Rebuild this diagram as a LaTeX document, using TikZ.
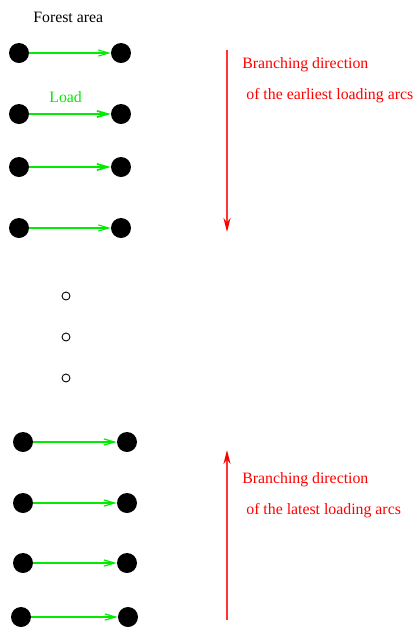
\documentclass[tikz,border=0pt]{standalone}
\usepackage{fontspec}
\setmainfont{Liberation Serif}
\usetikzlibrary{arrows.meta}
\definecolor{loadgreen}{RGB}{0,235,0}

\begin{document}
\begin{tikzpicture}[>=Stealth,x=0.02cm,y=-0.02cm,
    vertex/.style={circle,fill=black,inner sep=0pt,minimum size=0.4cm},
    dot/.style={circle,draw=black,line width=0.5pt,inner sep=0pt,minimum size=0.16cm},
    load/.style={loadgreen,line width=0.7pt,-{Straight Barb[length=6pt,width=3.5pt]}},
    branch/.style={red!80,line width=0.9pt,-{Stealth[length=8pt,width=4pt,red]}},
    label/.style={anchor=base west,inner sep=0pt,font=\fontsize{9}{11}\selectfont}]
  \useasboundingbox (0,0) rectangle (416,627);
  % Configurable parameters
  \def\xl{19}
  \def\xr{121}
  \def\xL{23}
  \def\xR{127}
  %
  % Earliest loading arcs
  \node[vertex] (l1) at (\xl,53) {};
  \node[vertex] (r1) at (\xr,53) {};
  \node[vertex] (l2) at (\xl,114) {};
  \node[vertex] (r2) at (\xr,114) {};
  \node[vertex] (l3) at (\xl,167) {};
  \node[vertex] (r3) at (\xr,167) {};
  \node[vertex] (l4) at (\xl,228) {};
  \node[vertex] (r4) at (\xr,228) {};
  \draw[load,line width=0.6pt] (l1) -- (r1);
  \draw[load,line width=1pt] (l2) -- (r2);
  \draw[load,line width=1pt] (l3) -- (r3);
  \draw[load,line width=0.6pt] (l4) -- (r4);
  \node[label] (forest) at (33,22) {Forest area};
  \node[label,loadgreen] (loadtext) at (49,102) {Load};
  %
  % Omitted rows
  \node[dot] (d1) at (66,296) {};
  \node[dot] (d2) at (66,337) {};
  \node[dot] (d3) at (66,378) {};
  %
  % Latest loading arcs
  \node[vertex] (l5) at (\xL,442) {};
  \node[vertex] (r5) at (\xR,442) {};
  \node[vertex] (l6) at (\xL,503) {};
  \node[vertex] (r6) at (\xR,503) {};
  \node[vertex] (l7) at (\xL,563) {};
  \node[vertex] (r7) at (\xR,563) {};
  \node[vertex] (l8) at (21,617) {};
  \node[vertex] (r8) at (128,617) {};
  \draw[load] (l5) -- (r5);
  \draw[load] (l6) -- (r6);
  \draw[load] (l7) -- (r7);
  \draw[load] (l8) -- (r8);
  %
  % Branching directions
  \coordinate (up1) at (227,50);
  \coordinate (dn1) at (227,232);
  \coordinate (up2) at (227,450);
  \coordinate (dn2) at (227,620);
  \draw[branch] (up1) -- (dn1);
  \draw[branch] (dn2) -- (up2);
  \node[label,red] (early1) at (242,68) {Branching direction};
  \node[label,red] (early2) at (246,99) {of the earliest loading arcs};
  \node[label,red] (late1) at (242,483) {Branching direction};
  \node[label,red] (late2) at (246,514) {of the latest loading arcs};
  %
\end{tikzpicture}
\end{document}
